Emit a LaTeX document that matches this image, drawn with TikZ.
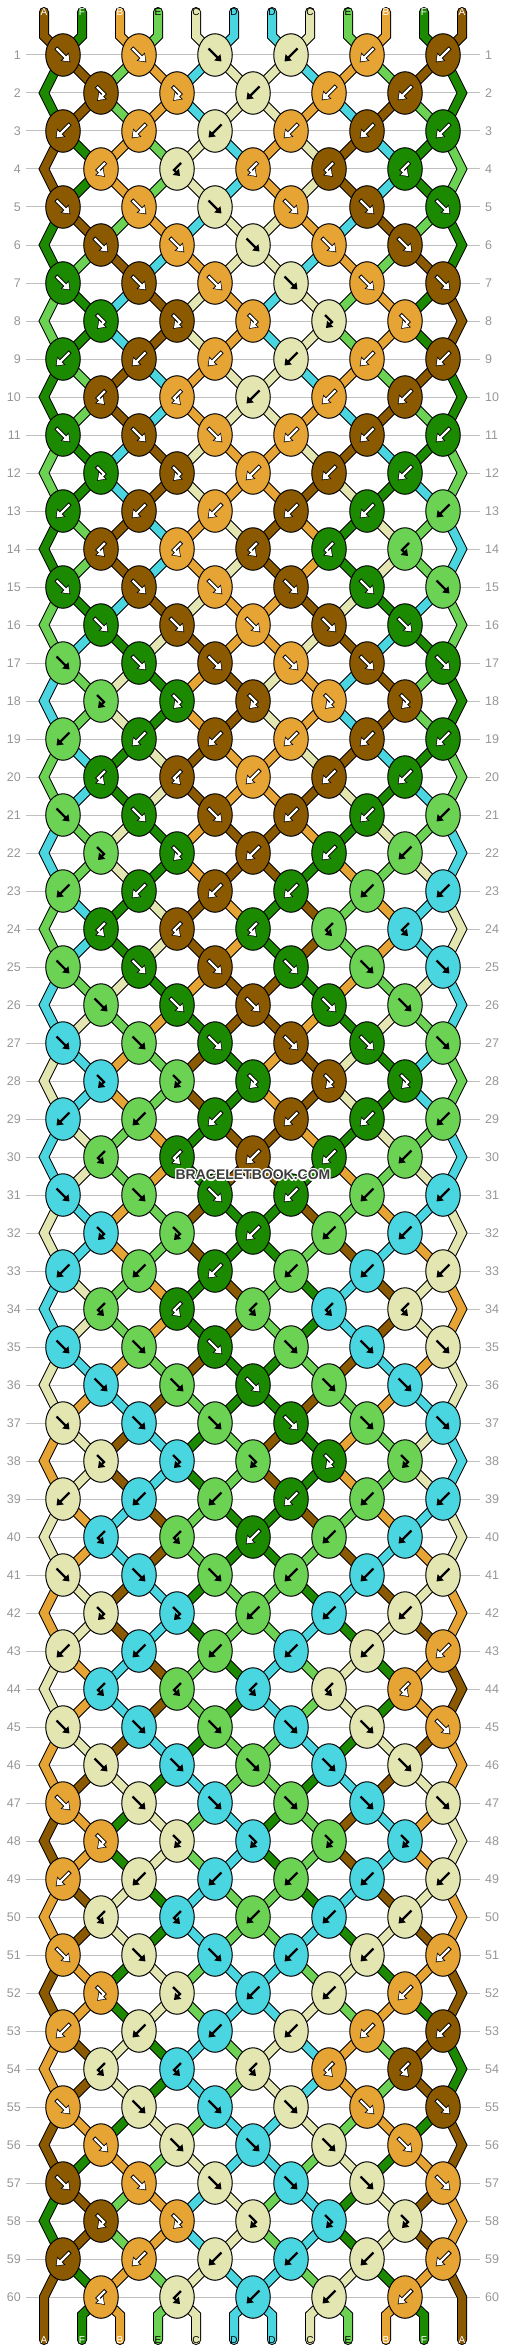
\documentclass[tikz,border=0pt]{standalone}
\usepackage{fontspec}
\setmainfont{Liberation Sans}
\usetikzlibrary{arrows.meta,shapes.geometric}

\definecolor{colA}{RGB}{139,90,0}
\definecolor{colF}{RGB}{27,138,0}
\definecolor{colB}{RGB}{230,164,52}
\definecolor{colE}{RGB}{108,210,84}
\definecolor{colC}{RGB}{227,230,176}
\definecolor{colD}{RGB}{74,214,224}
\colorlet{txtA}{white}
\colorlet{txtF}{white}
\colorlet{txtB}{white}
\colorlet{txtE}{black}
\colorlet{txtC}{black}
\colorlet{txtD}{black}
\colorlet{rimA}{black}
\colorlet{rimF}{black}
\colorlet{rimB}{black}
\colorlet{rimE}{colE}
\colorlet{rimC}{colC}
\colorlet{rimD}{colD}
\definecolor{gridgray}{RGB}{192,192,192}
\definecolor{numgray}{RGB}{150,150,150}
\definecolor{markgray}{RGB}{60,60,60}

\newcommand{\setpat}[2]{\expandafter\def\csname pat#1\endcsname{#2}}
\newcommand{\setst}[2]{\expandafter\xdef\csname st#1\endcsname{#2}}
\newcommand{\setnst}[2]{\expandafter\xdef\csname nst#1\endcsname{#2}}
\newcommand{\strcol}[1]{\csname st#1\endcsname}
\newcommand{\newcol}[1]{\csname nst#1\endcsname}
\newcommand{\setsc}[3]{\expandafter\xdef\csname sc-#1-#2\endcsname{#3}}
\newcommand{\getsc}[2]{\csname sc-#1-#2\endcsname}

% knot types, the ten rows repeat
\setpat{1}{F,F,F,B,B,B}
\setpat{2}{f,f,B,B,B}
\setpat{3}{B,B,B,B,B,B}
\setpat{4}{b,b,b,b,b}
\setpat{5}{F,F,F,F,F,F}
\setpat{6}{F,F,F,F,F}
\setpat{7}{F,F,F,F,F,F}
\setpat{8}{f,f,f,f,f}
\setpat{9}{B,B,B,B,B,B}
\setpat{10}{b,b,B,B,B}

% strings at the top
\setst{1}{A}\setst{2}{F}\setst{3}{B}\setst{4}{E}\setst{5}{C}\setst{6}{D}
\setst{7}{D}\setst{8}{C}\setst{9}{E}\setst{10}{B}\setst{11}{F}\setst{12}{A}

% point where string #2 sits in row #1 -> \an
\newcommand{\getattach}[2]{%
  \pgfmathtruncatemacro{\ao}{mod(#1,2)}%
  \ifnum\ao=1
    \pgfmathtruncatemacro{\as}{#2-1+mod(#2,2)}%
    \edef\an{k-#1-\as}%
  \else
    \ifnum#2=1 \edef\an{e-#1-1}%
    \else\ifnum#2=12 \edef\an{e-#1-12}%
    \else
      \pgfmathtruncatemacro{\as}{#2-mod(#2,2)}%
      \edef\an{k-#1-\as}%
    \fi\fi
  \fi}

% #1 rim or band, #2 string letter, #3 path
\newcommand{\strand}[3]{%
  \edef\bandcol{col#2}%
  \draw[draw=\bandcol,#1line] #3;}

\newcommand{\drawstrands}[1]{%
  \foreach \p in {1,...,12}{
    \getattach{1}{\p}
    \strand{#1}{\getsc{1}{\p}}{(t-\p) -- ++(0,24) -- (\an)}
  }
  \foreach \row in {2,...,60}{
    \pgfmathtruncatemacro{\rp}{\row-1}
    \pgfmathtruncatemacro{\rpp}{\row-2}
    \foreach \p in {2,...,11}{
      \getattach{\rp}{\p}\let\fromn\an
      \getattach{\row}{\p}\let\ton\an
      \strand{#1}{\getsc{\row}{\p}}{(\fromn) -- (\ton)}
    }
    \ifodd\row\relax
      \strand{#1}{\getsc{\row}{1}}{(k-\rpp-1) -- (e-\rp-1) -- (k-\row-1)}
      \strand{#1}{\getsc{\row}{12}}{(k-\rpp-11) -- (e-\rp-12) -- (k-\row-11)}
    \fi
  }
  \strand{#1}{\getsc{61}{1}}{(k-59-1) -- (e-60-1) -- (b-1)}
  \strand{#1}{\getsc{61}{12}}{(k-59-11) -- (e-60-12) -- (b-12)}
  \foreach \p in {2,...,11}{
    \getattach{60}{\p}
    \strand{#1}{\getsc{61}{\p}}{(\an) -- (6+38*\p,2315) -- (b-\p)}
  }}

% #1 node, #2 knot type, #3 arrow colour, #4 rim colour
\newcommand{\knotmark}[4]{%
  \if#2F\def\kpath{([shift={(-6.5,-6.5)}]#1.center) -- ([shift={(6.5,6.5)}]#1.center)}\fi
  \if#2B\def\kpath{([shift={(6.5,-6.5)}]#1.center) -- ([shift={(-6.5,6.5)}]#1.center)}\fi
  \if#2f\def\kpath{([shift={(-4,-6)}]#1.center) -- ([shift={(3,1)}]#1.center) -- ([shift={(-3,7)}]#1.center)}\fi
  \if#2b\def\kpath{([shift={(4,-6)}]#1.center) -- ([shift={(-3,1)}]#1.center) -- ([shift={(3,7)}]#1.center)}\fi
  \draw[arrowrim,draw=#4] \kpath;
  \draw[knotarrow,draw=#3] \kpath;}

\begin{document}
\begin{tikzpicture}[x=1pt,y=-1pt,
    gridline/.style={draw=gridgray,line width=1pt},
    rownum/.style={text=numgray,inner sep=0pt,font=\fontsize{12.5}{12.5}\selectfont},
    strlabel/.style={inner sep=0pt,font=\fontsize{10}{10}\selectfont},
    knotnode/.style={ellipse,draw=black,line width=1pt,minimum width=34.5pt,minimum height=42.5pt,inner sep=0pt},
    knotarrow/.style={line width=2.4pt,-{Triangle[length=6pt,width=8.5pt]}},
    arrowrim/.style={line width=4.2pt,shorten <=-1pt,shorten >=-1.2pt,-{Triangle[length=8pt,width=11pt]}},
    rimline/.style={draw=black,line width=10pt,line cap=round},
    bandline/.style={line width=8pt,line cap=round},
    wmtext/.style={inner sep=0pt,font=\fontsize{14}{14}\selectfont\bfseries}]

  \useasboundingbox (0,0) rectangle (506,2352);

  % knotting, row by row
  \foreach \row in {1,...,60}{
    \pgfmathtruncatemacro{\rodd}{mod(\row,2)}
    \pgfmathtruncatemacro{\ry}{55+38*(\row-1)}
    \pgfmathtruncatemacro{\m}{mod(\row-1,10)+1}
    \edef\types{\csname pat\m\endcsname}
    \foreach \p in {1,...,12}{\setsc{\row}{\p}{\strcol{\p}}\setnst{\p}{\strcol{\p}}}
    \foreach \kt [count=\kn] in \types {
      \pgfmathtruncatemacro{\s}{2*\kn-\rodd}
      \pgfmathtruncatemacro{\sn}{\s+1}
      \edef\lcol{\strcol{\s}}
      \edef\rcol{\strcol{\sn}}
      \if\kt F\edef\kcol{\lcol}\setnst{\s}{\rcol}\setnst{\sn}{\lcol}\fi
      \if\kt B\edef\kcol{\rcol}\setnst{\s}{\rcol}\setnst{\sn}{\lcol}\fi
      \if\kt f\edef\kcol{\lcol}\fi
      \if\kt b\edef\kcol{\rcol}\fi
      \expandafter\xdef\csname kc-\row-\s\endcsname{\kcol}
      \expandafter\xdef\csname kt-\row-\s\endcsname{\kt}
      \coordinate (k-\row-\s) at (25+38*\s,\ry);
    }
    \foreach \p in {1,...,12}{\setst{\p}{\newcol{\p}}}
    \ifodd\row\relax\else
      \coordinate (e-\row-1) at (44,\ry);
      \coordinate (e-\row-12) at (462,\ry);
    \fi
    % row line and numbers
    \draw[gridline] (26,\ry) -- (480,\ry);
    \node[rownum,anchor=east] (nl-\row) at (21,\ry) {\row};
    \node[rownum,anchor=west] (nr-\row) at (485,\ry) {\row};
  }
  \foreach \p in {1,...,12}{
    \setsc{61}{\p}{\strcol{\p}}
    \coordinate (t-\p) at (6+38*\p,12);
    \coordinate (b-\p) at (6+38*\p,2340);
  }

  % strings: black rims first, then the colours
  \drawstrands{rim}
  \drawstrands{band}

  % knots
  \foreach \row in {1,...,60}{
    \pgfmathtruncatemacro{\nk}{5+mod(\row,2)}
    \foreach \kn in {1,...,\nk}{
      \pgfmathtruncatemacro{\s}{2*\kn-mod(\row,2)}
      \edef\kcol{\csname kc-\row-\s\endcsname}
      \edef\kt{\csname kt-\row-\s\endcsname}
      \edef\fcol{col\kcol}
      \edef\acol{txt\kcol}
      \edef\ocol{rim\kcol}
      \node[knotnode,fill=\fcol] (knot-\row-\s) at (k-\row-\s) {};
      \knotmark{knot-\row-\s}{\kt}{\acol}{\ocol}
    }
  }

  % string letters
  \foreach \p in {1,...,12}{
    \edef\scol{\getsc{1}{\p}}\edef\acol{txt\scol}
    \node[strlabel,text=\acol] (lt-\p) at (t-\p) {\scol};
    \edef\scol{\getsc{61}{\p}}\edef\acol{txt\scol}
    \node[strlabel,text=\acol] (lb-\p) at (b-\p) {\scol};
  }

  % watermark
  \coordinate (wm) at (253,1175);
  \foreach \dx/\dy in {-1.2/0,1.2/0,0/-1.2,0/1.2,-.9/-.9,.9/-.9,-.9/.9,.9/.9}
    \node[wmtext,text=white] at ([shift={(\dx,\dy)}]wm) {BRACELETBOOK.COM};
  \node[wmtext,text=markgray] (wmark) at (wm) {BRACELETBOOK.COM};
\end{tikzpicture}
\end{document}
